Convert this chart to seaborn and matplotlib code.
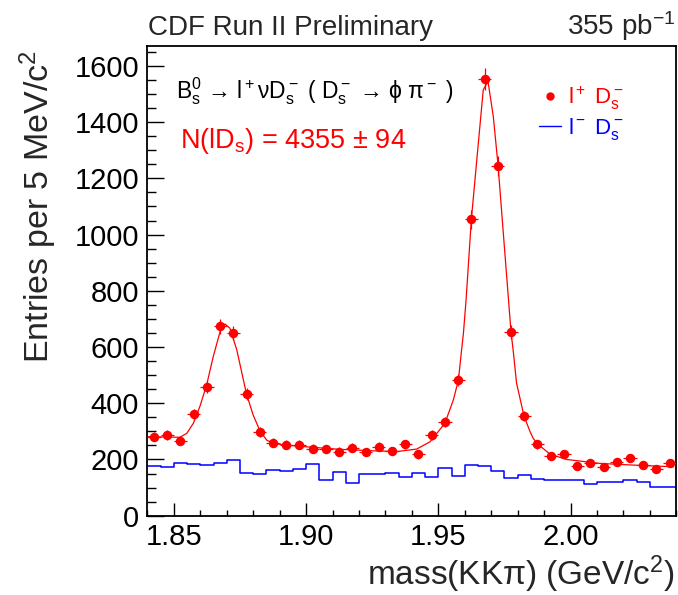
# CDF Run II - B_s -> l nu D_s mass spectrum (KK pi), recreated with seaborn
import numpy as np
import matplotlib
matplotlib.use("Agg")
import matplotlib.pyplot as plt
from matplotlib.lines import Line2D
from matplotlib.ticker import MultipleLocator, FormatStrFormatter
import seaborn as sns

# --- DATA ---
# bin centres, 5 MeV/c^2 bins from 1.84 to 2.04 GeV/c^2
mass_centers = [1.8425, 1.8475, 1.8525, 1.8575, 1.8625, 1.8675, 1.8725, 1.8775,
                1.8825, 1.8875, 1.8925, 1.8975, 1.9025, 1.9075, 1.9125, 1.9175,
                1.9225, 1.9275, 1.9325, 1.9375, 1.9425, 1.9475, 1.9525, 1.9575,
                1.9625, 1.9675, 1.9725, 1.9775, 1.9825, 1.9875, 1.9925, 1.9975,
                2.0025, 2.0075, 2.0125, 2.0175, 2.0225, 2.0275, 2.0325, 2.0375]

# right-sign l+ D_s- (red points)
lplus_ds = [281, 287, 266, 361, 458, 674, 651, 432, 298, 260,
            252, 253, 238, 237, 228, 242, 226, 246, 230, 254,
            218, 288, 333, 482, 1054, 1553, 1244, 653, 355, 254,
            211, 220, 176, 188, 174, 191, 205, 179, 165, 186]

# wrong-sign l- D_s- (blue histogram)
lminus_ds = [178, 173, 189, 185, 180, 188, 197, 151, 150, 164,
             160, 167, 185, 126, 157, 117, 150, 150, 153, 139,
             151, 139, 169, 140, 181, 176, 158, 133, 146, 130,
             127, 127, 127, 113, 120, 121, 128, 119, 101, 101]

# fit curve
fit_mass = [1.8403, 1.8523, 1.8549, 1.8574, 1.8599, 1.8624, 1.8649, 1.8675,
            1.8693, 1.8712, 1.8738, 1.8763, 1.8775, 1.8800, 1.8826, 1.8851,
            1.8876, 1.8927, 1.9002, 1.9128, 1.9250, 1.9343, 1.9418, 1.9469,
            1.9525, 1.9557, 1.9576, 1.9588, 1.9595, 1.9605, 1.9625, 1.9649,
            1.9670, 1.9688, 1.9708, 1.9726, 1.9750, 1.9775, 1.9783, 1.9796,
            1.9824, 1.9847, 1.9859, 1.9876, 1.9922, 1.9985, 2.0111, 2.0237,
            2.0389]
fit_val = [281, 279, 293, 329, 390, 465, 566, 655,
           682, 667, 590, 483, 432, 358, 301, 269,
           257, 251, 245, 236, 231, 228, 237, 263,
           329, 412, 482, 589, 649, 767, 1054, 1301,
           1515, 1545, 1420, 1246, 955, 653, 589, 471,
           355, 299, 275, 255, 219, 200, 186, 180,
           174]

n_signal = 4355
n_signal_err = 94

# --- STYLE ---
sns.set_style("ticks")
plt.rcParams['font.family'] = ['Liberation Sans', 'DejaVu Sans']
plt.rcParams['mathtext.fontset'] = 'custom'
plt.rcParams['mathtext.rm'] = 'Liberation Sans'
plt.rcParams['mathtext.it'] = 'Liberation Sans'
plt.rcParams['mathtext.default'] = 'regular'

fig = plt.figure(figsize=(6.78, 5.95), dpi=100)
ax = fig.add_axes([0.2174, 0.1333, 0.7801, 0.7899])

# wrong-sign histogram
sns.histplot(x=mass_centers, weights=lminus_ds, bins=40, binrange=(1.84, 2.04),
             element="step", fill=False, color="blue", linewidth=1.1, ax=ax)

# fit curve
sns.lineplot(x=fit_mass, y=fit_val, color="red", linewidth=0.9, ax=ax)

# right-sign data points
ax.errorbar(mass_centers, lplus_ds, yerr=np.sqrt(lplus_ds), xerr=0.0025,
            fmt='o', color='red', markersize=5.8, elinewidth=0.9, capsize=0, zorder=5)

# --- AXES ---
ax.set_xlim(1.84, 2.04)
ax.set_ylim(0, 1672)
ax.xaxis.set_major_locator(MultipleLocator(0.05))
ax.xaxis.set_minor_locator(MultipleLocator(0.01))
ax.xaxis.set_major_formatter(FormatStrFormatter('%.2f'))
ax.yaxis.set_major_locator(MultipleLocator(200))
ax.yaxis.set_minor_locator(MultipleLocator(50))
ax.tick_params(which='both', direction='in', top=False, right=False,
               labelsize=21, width=1.0, color='black', labelcolor='black')
ax.tick_params(axis='x', which='major', length=9.6, pad=5)
ax.tick_params(axis='x', which='minor', length=4.6)
ax.tick_params(axis='y', which='major', length=12.5, pad=6)
ax.tick_params(axis='y', which='minor', length=6.2)
for sp in ax.spines.values():
    sp.set_linewidth(1.3)
    sp.set_color('black')

ax.set_ylabel("Entries per 5 MeV/c$^2$", fontsize=24.5, loc='top')
ax.yaxis.set_label_coords(-0.186, 0.99)
ax.yaxis.label.set_va('baseline')
ax.set_xlabel("mass(KKπ) (GeV/c$^2$)", fontsize=24, loc='right')
ax.xaxis.set_label_coords(0.998, -0.1474)
ax.xaxis.label.set_va('baseline')

# --- TEXT ---
ax.text(0.054, 0.8885, "B$_s^0$ → l$^+$νD$_s^-$ ( D$_s^-$ → ϕ π$^-$ )",
        transform=ax.transAxes, fontsize=16.5, color='black', va='baseline')
ax.text(0.0607, 0.783, f"N(lD$_s$) = {n_signal} ± {n_signal_err}",
        transform=ax.transAxes, fontsize=19.5, color='red', va='baseline')

handles = [Line2D([], [], marker='o', ls='none', color='red', markersize=5),
           Line2D([], [], color='blue', lw=1.0)]
ax.legend(handles, ["l$^+$ D$_s^-$", "l$^-$ D$_s^-$"], loc='upper left',
          bbox_to_anchor=(0.7397, 0.918), frameon=False, fontsize=16,
          handlelength=1.0, handletextpad=0.3, labelspacing=0.2,
          borderpad=0, borderaxespad=0, labelcolor=['red', 'blue'])

fig.text(0.218, 0.941, "CDF Run II Preliminary", fontsize=20, va='baseline', ha='left')
fig.text(0.9956, 0.941, "355 pb$^{-1}$", fontsize=20, va='baseline', ha='right')

fig.savefig("out.png", dpi=100)
